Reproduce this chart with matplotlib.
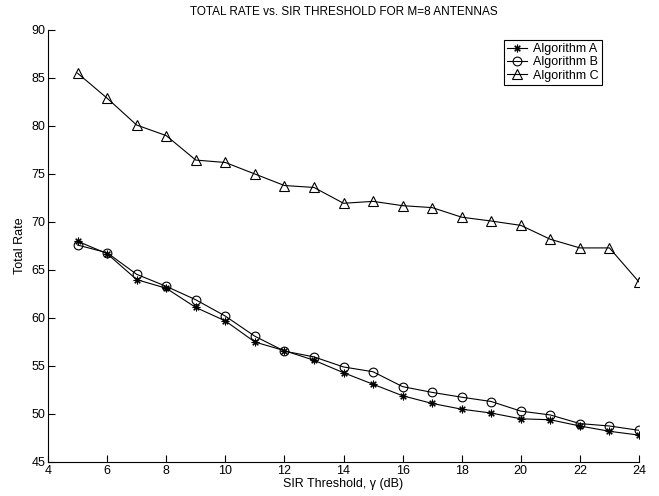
import matplotlib
matplotlib.use("Agg")
import matplotlib.pyplot as plt

plt.rcParams["font.family"] = ["Liberation Sans", "DejaVu Sans"]

sir_db = [5, 6, 7, 8, 9, 10, 11, 12, 13, 14, 15, 16, 17, 18, 19, 20, 21, 22, 23, 24]
rate_a = [68.0, 66.7, 64.0, 63.1, 61.1, 59.7, 57.5, 56.6, 55.6, 54.3, 53.1, 51.9, 51.1,
          50.5, 50.1, 49.5, 49.4, 48.75, 48.2, 47.8]
rate_b = [67.6, 66.8, 64.55, 63.3, 61.9, 60.2, 58.1, 56.55, 55.95, 54.9, 54.4, 52.85, 52.25,
          51.75, 51.3, 50.3, 49.9, 49.0, 48.75, 48.3]
rate_c = [85.5, 82.9, 80.1, 79.0, 76.45, 76.2, 75.0, 73.8, 73.6, 71.95, 72.15, 71.7, 71.5,
          70.5, 70.1, 69.65, 68.2, 67.3, 67.3, 63.75]

xticks = [4, 6, 8, 10, 12, 14, 16, 18, 20, 22, 24]
yticks = [45, 50, 55, 60, 65, 70, 75, 80, 85, 90]

fig = plt.figure(figsize=(6.59, 4.96), dpi=100)
ax = fig.add_axes([48 / 659, 1 - 462 / 496, 591 / 659, 432 / 496])

ax.plot(sir_db, rate_a, color="black", lw=0.8, marker=(8, 2, 0), ms=5.5,
        mew=0.8, label="Algorithm A")
ax.plot(sir_db, rate_b, color="black", lw=0.8, marker="o", ms=6.3, mfc="none",
        mew=0.8, label="Algorithm B")
ax.plot(sir_db, rate_c, color="black", lw=0.8, marker="^", ms=7, mfc="none",
        mew=0.8, label="Algorithm C")

ax.set_xlim(4, 24)
ax.set_ylim(45, 90)
ax.set_xticks(xticks)
ax.set_yticks(yticks)
ax.tick_params(direction="in", length=5, width=0.8, labelsize=9, pad=2)
for side in ("top", "right"):
    ax.spines[side].set_visible(False)
for side in ("left", "bottom"):
    ax.spines[side].set_linewidth(0.8)

ax.set_xlabel("SIR Threshold, γ (dB)", fontsize=9, labelpad=1)
ax.set_ylabel("Total Rate", fontsize=9, labelpad=4)
ax.set_title("TOTAL RATE vs. SIR THRESHOLD FOR M=8 ANTENNAS", fontsize=8.5, pad=11)

leg = ax.legend(loc="upper right", bbox_to_anchor=(0.937, 0.977), fontsize=9,
                frameon=True, fancybox=False, edgecolor="black", framealpha=1,
                handlelength=1.6, handletextpad=0.5, borderpad=0.25, labelspacing=0.1,
                borderaxespad=0)
leg.get_frame().set_linewidth(0.8)

fig.savefig("out.png", dpi=100)
